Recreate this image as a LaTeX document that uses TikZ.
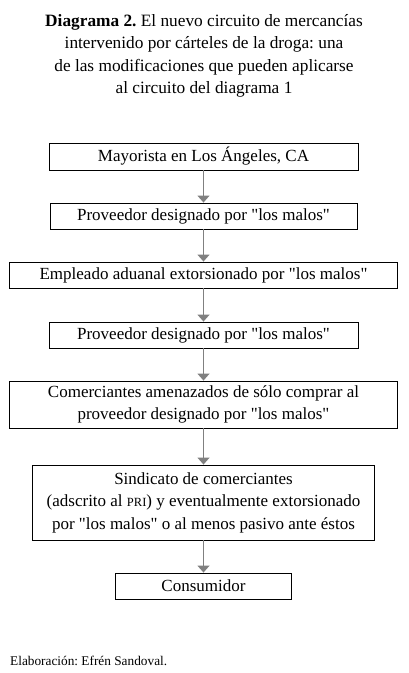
\documentclass[tikz,border=0pt]{standalone}
\usepackage{fontspec}
\setmainfont{Liberation Serif}[Ligatures=TeXOff]
\usetikzlibrary{arrows.meta}
\definecolor{arrowgray}{RGB}{128,128,128}
\frenchspacing
\tikzset{
  box/.style={draw=black, line width=0.9pt, inner sep=0pt, align=center,
    font=\fontsize{17}{22.5}\selectfont},
  flow/.style={draw=arrowgray, line width=1.4pt,
    -{Triangle[width=12pt,length=7pt]}},
}
\begin{document}
\begin{tikzpicture}[x=1pt,y=-1pt]
\useasboundingbox (0,0) rectangle (409,673);
\node[align=center, font=\fontsize{17.3}{22.5}\selectfont] (title) at (204,56)
  {\textbf{Diagrama 2.} El nuevo circuito de mercancías\\
   intervenido por cárteles de la droga: una\\
   de las modificaciones que pueden aplicarse\\
   al circuito del diagrama 1};
\node[box, minimum width=309pt, minimum height=27pt] (b1) at (203.5,156.5) {Mayorista en Los Ángeles, CA};
\node[box, minimum width=307pt, minimum height=26pt] (b2) at (203.5,216) {Proveedor designado por "los malos"};
\node[box, minimum width=388pt, minimum height=26pt] (b3) at (203.5,275) {Empleado aduanal extorsionado por "los malos"};
\node[box, minimum width=309pt, minimum height=26pt] (b4) at (203.5,335) {Proveedor designado por "los malos"};
\node[box, minimum width=388pt, minimum height=47pt] (b5) at (203.5,404.5) {Comerciantes amenazados de sólo comprar al\\proveedor designado por "los malos"};
\node[box, minimum width=342pt, minimum height=75pt] (b6) at (203.5,502.5) {Sindicato de comerciantes\\(adscrito al {\fontsize{12.5}{12.5}\selectfont PRI}) y eventualmente extorsionado\\por "los malos" o al menos pasivo ante éstos};
\node[box, minimum width=176pt, minimum height=26pt] (b7) at (203.5,586) {Consumidor};
\draw[flow] (b1) -- (b2);
\draw[flow] (b2) -- (b3);
\draw[flow] (b3) -- (b4);
\draw[flow] (b4) -- (b5);
\draw[flow] (b5) -- (b6);
\draw[flow] (b6) -- (b7);
\node[anchor=base west, inner sep=0pt, font=\fontsize{13.3}{15}\selectfont] (credit) at (10,665) {Elaboración: Efrén Sandoval.};
\end{tikzpicture}
\end{document}
